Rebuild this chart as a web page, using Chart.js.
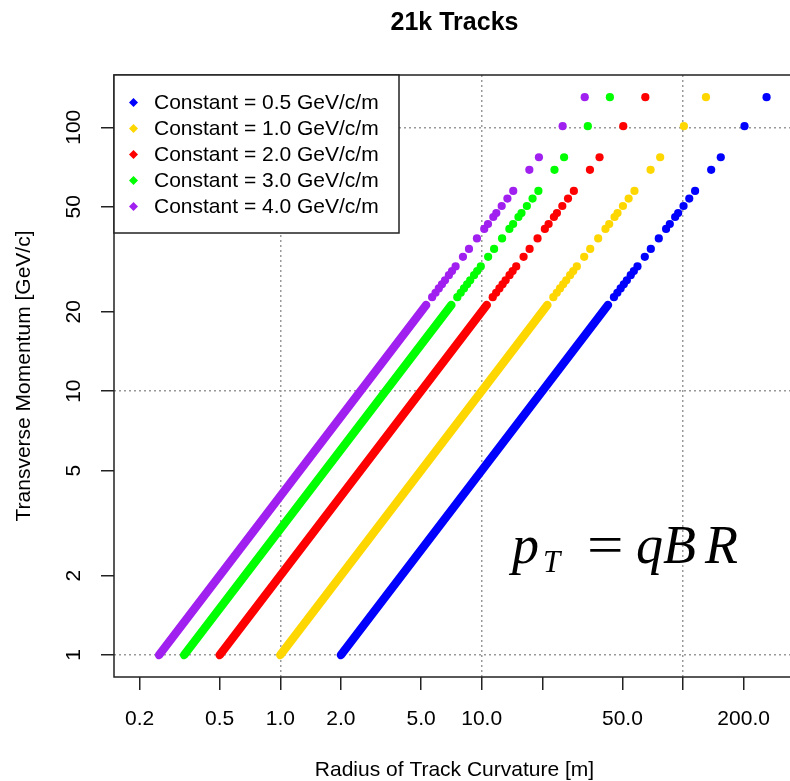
<!DOCTYPE html>
<html>
<head>
<meta charset="utf-8">
<script src="https://cdn.jsdelivr.net/npm/chart.js@4"></script>
<style>
  html, body { margin: 0; padding: 0; background: #fff; overflow: hidden; }
  #wrap { width: 800px; height: 781px; }
</style>
</head>
<body>
<div id="wrap"><canvas id="chart" width="800" height="781"></canvas></div>
<script>
'use strict';

// transverse momentum [GeV/c] of the plotted tracks (same for every constant)
// first two values are the ends of the dense, continuous band
const momentum = [1.0, 21.2, 22.7, 23.6, 24.5, 25.4, 26.3, 27.5, 28.5, 29.7, 32.3, 34.6,
  37.9, 41.2, 43.0, 45.7, 47.3, 50.3, 53.7, 57.4, 69.0, 77.0, 101, 130];

// radius of track curvature [m], one list per constant
const radius05 = [2.0, 42.4, 45.4, 47.2, 49.0, 50.8, 52.6, 55.0, 57.0, 59.4, 64.6, 69.2,
  75.8, 82.4, 86.0, 91.4, 94.6, 100.6, 107.4, 114.8, 138, 154, 202, 260];
const radius10 = [1.0, 21.2, 22.7, 23.6, 24.5, 25.4, 26.3, 27.5, 28.5, 29.7, 32.3, 34.6,
  37.9, 41.2, 43.0, 45.7, 47.3, 50.3, 53.7, 57.4, 69.0, 77.0, 101, 130];
const radius20 = [0.5, 10.6, 11.35, 11.8, 12.25, 12.7, 13.15, 13.75, 14.25, 14.85, 16.15, 17.3,
  18.95, 20.6, 21.5, 22.85, 23.65, 25.15, 26.85, 28.7, 34.5, 38.5, 50.5, 65.0];
const radius30 = [0.333, 7.07, 7.57, 7.87, 8.17, 8.47, 8.77, 9.17, 9.5, 9.9, 10.77, 11.53,
  12.63, 13.73, 14.33, 15.23, 15.77, 16.77, 17.9, 19.13, 23.0, 25.67, 33.67, 43.33];
const radius40 = [0.25, 5.3, 5.675, 5.9, 6.125, 6.35, 6.575, 6.875, 7.125, 7.425, 8.075, 8.65,
  9.475, 10.3, 10.75, 11.425, 11.825, 12.575, 13.425, 14.35, 17.25, 19.25, 25.25, 32.5];

const seriesLabels = ['Constant = 0.5 GeV/c/m', 'Constant = 1.0 GeV/c/m', 'Constant = 2.0 GeV/c/m',
  'Constant = 3.0 GeV/c/m', 'Constant = 4.0 GeV/c/m'];
const seriesColors = ['#0000FF', '#FFD700', '#FF0000', '#00FF00', '#A020F0'];
const seriesRadius = [radius05, radius10, radius20, radius30, radius40];

const xTicks = [0.2, 0.5, 1, 2, 5, 10, 20, 50, 100, 200];
const xTickLabels = ['0.2', '0.5', '1.0', '2.0', '5.0', '10.0', '', '50.0', '', '200.0'];
const yTicks = [1, 2, 5, 10, 20, 50, 100];
const yTickLabels = ['1', '2', '5', '10', '20', '50', '100'];
const gridValues = [1, 10, 100];

const FONT = '"Liberation Sans", Arial, sans-serif';

const datasets = [];
seriesRadius.forEach((rad, i) => {
  const pts = rad.map((r, j) => ({ x: r, y: momentum[j] }));
  // continuous band of densely packed tracks
  datasets.push({
    data: pts.slice(0, 2),
    showLine: true,
    borderColor: seriesColors[i],
    borderWidth: 8.5,
    borderCapStyle: 'round',
    pointRadius: 0
  });
  // individual tracks
  datasets.push({
    label: seriesLabels[i],
    data: pts.slice(2),
    backgroundColor: seriesColors[i],
    pointRadius: 4.1,
    pointBorderWidth: 0,
    showLine: false
  });
});

const boxPlugin = {
  id: 'box',
  afterDatasetsDraw(chart) {
    const { ctx, chartArea: a } = chart;
    ctx.save();
    ctx.strokeStyle = '#222';
    ctx.lineWidth = 1.5;
    ctx.strokeRect(a.left, a.top, a.right - a.left, a.bottom - a.top);
    ctx.restore();
  }
};

const legendPlugin = {
  id: 'legendBox',
  afterDatasetsDraw(chart) {
    const { ctx, chartArea: a } = chart;
    const items = chart.data.datasets.filter(d => d.label);
    const w = 285, h = 158;
    ctx.save();
    ctx.fillStyle = '#fff';
    ctx.fillRect(a.left, a.top, w, h);
    ctx.strokeStyle = '#222';
    ctx.lineWidth = 1.5;
    ctx.strokeRect(a.left, a.top, w, h);
    ctx.font = '21px ' + FONT;
    ctx.textBaseline = 'middle';
    items.forEach((d, i) => {
      const cy = a.top + 27.5 + i * 26;
      const cx = a.left + 19.5;
      ctx.fillStyle = d.backgroundColor;
      ctx.beginPath();
      ctx.moveTo(cx, cy - 4.5);
      ctx.lineTo(cx + 4.5, cy);
      ctx.lineTo(cx, cy + 4.5);
      ctx.lineTo(cx - 4.5, cy);
      ctx.closePath();
      ctx.fill();
      ctx.fillStyle = '#000';
      ctx.fillText(d.label, a.left + 40, cy + 1);
    });
    ctx.restore();
  }
};

const formulaPlugin = {
  id: 'formula',
  afterDatasetsDraw(chart) {
    const { ctx } = chart;
    const serif = '"Liberation Serif", "DejaVu Serif", serif';
    ctx.save();
    ctx.fillStyle = '#000';
    ctx.textBaseline = 'alphabetic';
    ctx.font = 'italic 54px ' + serif;
    ctx.fillText('p', 512, 563);
    ctx.font = 'italic 31px ' + serif;
    ctx.fillText('T', 543, 572);
    ctx.font = '54px ' + serif;
    ctx.save();
    ctx.translate(587, 563);
    ctx.scale(1.2, 1);
    ctx.fillText('=', 0, 0);
    ctx.restore();
    ctx.font = 'italic 54px ' + serif;
    ctx.fillText('q', 636, 563);
    ctx.fillText('B', 663, 563);
    ctx.fillText('R', 705, 563);
    ctx.restore();
  }
};

new Chart(document.getElementById('chart'), {
  type: 'scatter',
  data: { datasets },
  options: {
    responsive: false,
    animation: false,
    layout: { padding: { right: 5 } },
    plugins: {
      legend: { display: false },
      tooltip: { enabled: false },
      title: {
        display: true,
        text: '21k Tracks',
        fullSize: false,
        color: '#000',
        font: { family: FONT, size: 25, weight: 'bold', lineHeight: 1.2 },
        padding: { top: 8, bottom: 37 }
      }
    },
    scales: {
      x: {
        type: 'logarithmic',
        min: 0.1493,
        max: 359.9,
        afterBuildTicks: s => { s.ticks = xTicks.map(v => ({ value: v })); },
        afterFit: s => { s.height = 104; },
        ticks: {
          autoSkip: false,
          maxRotation: 0,
          color: '#000',
          padding: 17,
          font: { family: FONT, size: 21 },
          callback: (v, i) => xTickLabels[i]
        },
        grid: {
          color: c => gridValues.includes(c.tick && c.tick.value) ? '#999' : 'transparent',
          lineWidth: 1.5,
          tickLength: 13,
          tickColor: '#222',
          tickWidth: 1.5
        },
        border: { display: false, dash: [2, 3] },
        title: {
          display: true,
          text: 'Radius of Track Curvature [m]',
          color: '#000',
          font: { family: FONT, size: 21, lineHeight: 1 },
          padding: { top: 0, bottom: 0 }
        }
      },
      y: {
        type: 'logarithmic',
        min: 0.8254,
        max: 157.8,
        afterBuildTicks: s => { s.ticks = yTicks.map(v => ({ value: v })); },
        afterFit: s => { s.width = 114; },
        ticks: {
          autoSkip: false,
          minRotation: 90,
          maxRotation: 90,
          crossAlign: 'center',
          color: '#000',
          padding: 9,
          font: { family: FONT, size: 21 },
          callback: (v, i) => yTickLabels[i]
        },
        grid: {
          color: c => gridValues.includes(c.tick && c.tick.value) ? '#999' : 'transparent',
          lineWidth: 1.5,
          tickLength: 13,
          tickColor: '#222',
          tickWidth: 1.5
        },
        border: { display: false, dash: [2, 3] },
        title: {
          display: true,
          text: 'Transverse Momentum [GeV/c]',
          color: '#000',
          font: { family: FONT, size: 21, lineHeight: 1 },
          padding: { top: 13.5, bottom: 0 }
        }
      }
    }
  },
  plugins: [boxPlugin, legendPlugin, formulaPlugin]
});
</script>
</body>
</html>
